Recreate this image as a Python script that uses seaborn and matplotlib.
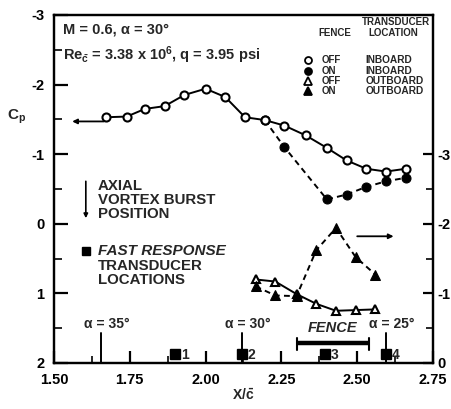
import matplotlib
matplotlib.use("Agg")
import matplotlib.pyplot as plt
import seaborn as sns

# Pressure coefficient, inboard transducer row (left axis)
x_off_in = [1.67, 1.74, 1.80, 1.865, 1.93, 2.00, 2.065, 2.13, 2.195, 2.26,
            2.33, 2.40, 2.465, 2.53, 2.595, 2.66]
cp_off_in = [-1.53, -1.54, -1.65, -1.69, -1.85, -1.94, -1.82, -1.53, -1.49,
             -1.41, -1.27, -1.09, -0.91, -0.79, -0.75, -0.79]
x_on_in = [2.195, 2.26, 2.40, 2.465, 2.53, 2.595, 2.66]
cp_on_in = [-1.49, -1.10, -0.35, -0.42, -0.53, -0.61, -0.66]

# Pressure coefficient, outboard transducer row (right axis)
x_off_out = [2.165, 2.23, 2.30, 2.365, 2.43, 2.495, 2.56]
cp_off_out = [-1.20, -1.17, -0.99, -0.85, -0.75, -0.76, -0.77]
x_on_out = [2.165, 2.23, 2.30, 2.365, 2.43, 2.495, 2.56]
cp_on_out = [-1.10, -0.97, -0.96, -1.62, -1.94, -1.52, -1.27]

# Axial vortex burst positions and fast response transducer stations
burst_labels = ["\u03b1 = 35\u00b0", "\u03b1 = 30\u00b0", "\u03b1 = 25\u00b0"]
burst_x = [1.655, 2.12, 2.595]
transducer_ids = ["1", "2", "3", "4"]
transducer_x = [1.90, 2.12, 2.395, 2.595]
fence_span = [2.30, 2.54]

# Axis ticks
x_major = [1.50, 1.75, 2.00, 2.25, 2.50, 2.75]
x_major_labels = ["1.50", "1.75", "2.00", "2.25", "2.50", "2.75"]
x_minor = [1.625, 1.875, 2.125, 2.375, 2.625]
left_major = [-3, -2, -1, 0, 1, 2]
left_labels = ["-3", "-2", "-1", "0", "1", "2"]
left_minor = [-2.5, -1.5, -0.5, 0.5, 1.5]
right_major = [-3, -2, -1, 0]
right_labels = ["-3", "-2", "-1", "0"]
right_minor = [-2.5, -1.5, -0.5]

sns.set_style("ticks")
plt.rcParams["font.family"] = ["Liberation Sans", "DejaVu Sans"]
plt.rcParams["font.weight"] = "bold"
plt.rcParams["axes.unicode_minus"] = False
plt.rcParams["mathtext.fontset"] = "custom"
plt.rcParams["mathtext.rm"] = "Liberation Sans:bold"
plt.rcParams["mathtext.bf"] = "Liberation Sans:bold"
plt.rcParams["mathtext.it"] = "Liberation Sans:bold:italic"
plt.rcParams["mathtext.default"] = "rm"

fig = plt.figure(figsize=(4.51, 4.09), dpi=100)
ax = fig.add_axes([0.1197, 0.1125, 0.8404, 0.851])
ax2 = ax.twinx()

lw = 1.4
dash = (0, (3.0, 2.2))

# inboard row
sns.lineplot(x=x_on_in, y=cp_on_in, ax=ax, color="black", lw=lw, linestyle=dash,
             marker="o", markersize=6.5, markerfacecolor="black",
             markeredgecolor="black", estimator=None, sort=False)
sns.lineplot(x=x_off_in, y=cp_off_in, ax=ax, color="black", lw=lw,
             marker="o", markersize=5.8, markerfacecolor="white",
             markeredgecolor="black", markeredgewidth=1.5,
             estimator=None, sort=False)

# outboard row
sns.lineplot(x=x_off_out, y=cp_off_out, ax=ax2, color="black", lw=lw,
             marker="^", markersize=6.2, markerfacecolor="white",
             markeredgecolor="black", markeredgewidth=1.5,
             estimator=None, sort=False)
sns.lineplot(x=x_on_out, y=cp_on_out, ax=ax2, color="black", lw=lw, linestyle=dash,
             marker="^", markersize=7.2, markerfacecolor="black",
             markeredgecolor="black", estimator=None, sort=False)

ax.set_xlim(1.5, 2.75)
ax.set_ylim(2, -3)
ax2.set_ylim(0, -5)

ax.set_xticks(x_major)
ax.set_xticklabels(x_major_labels)
ax.set_xticks(x_minor, minor=True)
ax.set_yticks(left_major)
ax.set_yticklabels(left_labels)
ax.set_yticks(left_minor, minor=True)
ax2.set_yticks(right_major)
ax2.set_yticklabels(right_labels)
ax2.set_yticks(right_minor, minor=True)

for a in (ax, ax2):
    for s in a.spines.values():
        s.set_linewidth(1.6)
        s.set_color("black")
ax.tick_params(axis="y", which="major", direction="in", length=10, width=1.6,
               labelsize=10.5, pad=7, colors="black")
ax.tick_params(axis="y", which="minor", direction="in", length=6, width=1.4)
ax.tick_params(axis="x", which="major", direction="in", length=9, width=1.6,
               labelsize=10.5, pad=7, colors="black")
ax.tick_params(axis="x", which="minor", direction="in", length=5, width=1.4)
ax2.tick_params(axis="y", which="major", direction="in", length=7, width=1.6,
                labelsize=10.5, pad=3, colors="black")
ax2.tick_params(axis="y", which="minor", direction="in", length=5, width=1.4)
for lab in ax.get_xticklabels() + ax.get_yticklabels() + ax2.get_yticklabels():
    lab.set_fontweight("bold")

ax.set_xlabel(r"X/$\bar{c}$", fontsize=10, fontweight="bold", labelpad=1)
ax.set_ylabel("")
ax2.set_ylabel("")
fig.text(0.015, 0.715, r"C$_{\mathrm{p}}$", fontsize=11, fontweight="bold",
         ha="left", va="center")

# flight condition
ax.text(0.024, 0.957, "M = 0.6, \u03b1 = 30\u00b0", transform=ax.transAxes,
        fontsize=10.5, fontweight="bold", ha="left", va="center")
ax.text(0.024, 0.885, r"Re$_{\bar{c}}$ = 3.38 x 10$^{6}$, q = 3.95 psi",
        transform=ax.transAxes, fontsize=10.5, fontweight="bold",
        ha="left", va="center")

# key
kfs = 7.0
ax.text(0.902, 0.980, "TRANSDUCER", transform=ax.transAxes, fontsize=kfs,
        fontweight="bold", ha="center", va="center")
ax.text(0.896, 0.948, "LOCATION", transform=ax.transAxes, fontsize=kfs,
        fontweight="bold", ha="center", va="center")
ax.text(0.741, 0.948, "FENCE", transform=ax.transAxes, fontsize=kfs,
        fontweight="bold", ha="center", va="center")
key_rows = [("o", "white", 5.0, "OFF", "INBOARD"),
            ("o", "black", 5.0, "ON", "INBOARD"),
            ("^", "white", 5.5, "OFF", "OUTBOARD"),
            ("^", "black", 6.0, "ON", "OUTBOARD")]
for (mk, fc, ms, fence, loc), ya in zip(key_rows, [0.871, 0.839, 0.810, 0.782]):
    ax.plot([0.670], [ya], transform=ax.transAxes, marker=mk, ms=ms,
            mfc=fc, mec="black", mew=1.3, ls="none", clip_on=False)
    ax.text(0.707, ya, fence, transform=ax.transAxes, fontsize=kfs,
            fontweight="bold", ha="left", va="center")
    ax.text(0.821, ya, loc, transform=ax.transAxes, fontsize=kfs + 0.3,
            fontweight="bold", ha="left", va="center")

# axis pointers
ax.annotate("", xy=(1.56, -1.47), xytext=(1.665, -1.47),
            arrowprops=dict(arrowstyle="-|>", color="black", lw=1.3,
                            mutation_scale=7, shrinkA=0, shrinkB=0))
ax.annotate("", xy=(2.62, 0.18), xytext=(2.50, 0.18),
            arrowprops=dict(arrowstyle="-|>", color="black", lw=1.3,
                            mutation_scale=7, shrinkA=0, shrinkB=0))

# side notes
ax.annotate("", xy=(1.605, -0.08), xytext=(1.605, -0.61),
            arrowprops=dict(arrowstyle="-|>", color="black", lw=1.2,
                            mutation_scale=6, shrinkA=0, shrinkB=0))
ax.text(1.645, -0.64, "AXIAL\nVORTEX BURST\nPOSITION", fontsize=10.8,
        fontweight="bold", ha="left", va="top", linespacing=1.0)
ax.plot([1.605], [0.39], marker="s", ms=6, mfc="black", mec="black",
        ls="none")
ax.text(1.645, 0.39, "FAST RESPONSE", fontsize=11, fontweight="bold",
        fontstyle="italic", ha="left", va="center")
ax.text(1.645, 0.50, "TRANSDUCER\nLOCATIONS", fontsize=10.8,
        fontweight="bold", ha="left", va="top", linespacing=1.0)

# burst positions
for bx, bl in zip(burst_x, burst_labels):
    ax.plot([bx, bx], [1.57, 2.0], color="black", lw=1.4)
    ax.text(bx + 0.02, 1.44, bl, fontsize=10, fontweight="bold",
            ha="center", va="center")

# transducer stations
for tx, tid in zip(transducer_x, transducer_ids):
    ax.plot([tx], [1.87], marker="s", ms=6.5, mfc="black", mec="black",
            ls="none")
    ax.text(tx + 0.018, 1.89, tid, fontsize=10, fontweight="bold",
            ha="left", va="center")

# fence extent
ax.plot(fence_span, [1.72, 1.72], color="black", lw=3.2,
        solid_capstyle="butt")
for fx in fence_span:
    ax.plot([fx, fx], [1.64, 1.82], color="black", lw=1.5)
ax.text(sum(fence_span) / 2, 1.50, "FENCE", fontsize=10.5, fontweight="bold",
        fontstyle="italic", ha="center", va="center")

fig.savefig("out.png", dpi=100)
